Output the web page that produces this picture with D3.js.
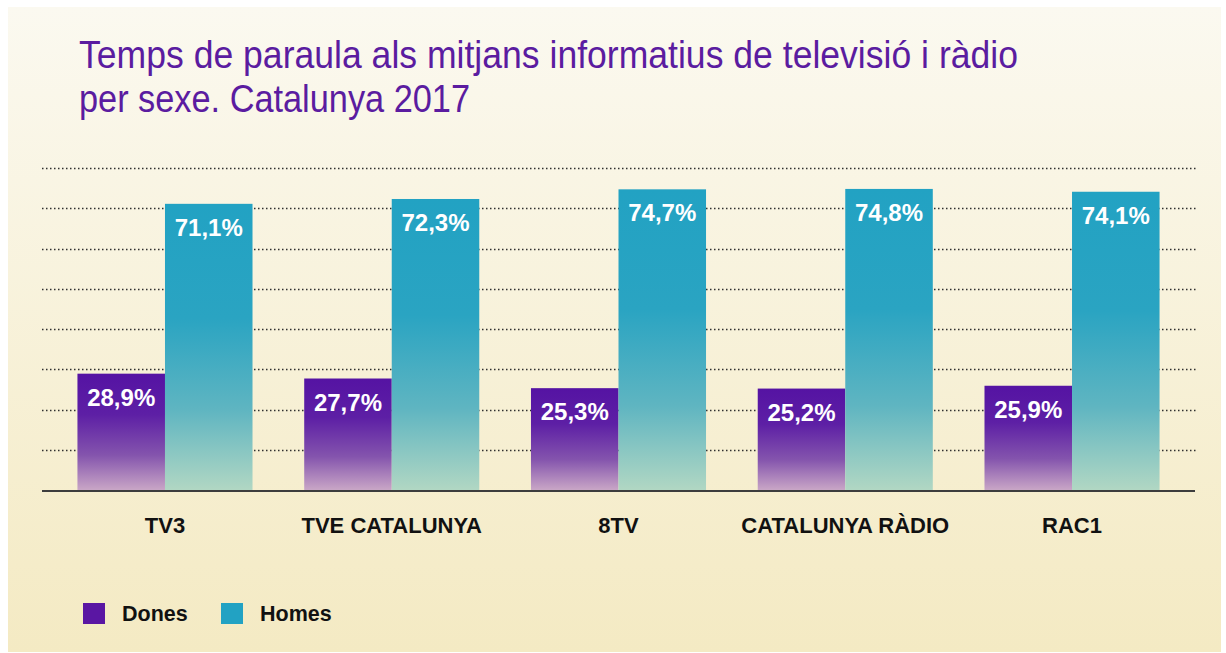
<!DOCTYPE html>
<html>
<head>
<meta charset="utf-8">
<script src="https://cdn.jsdelivr.net/npm/d3@7"></script>
<style>
  html, body { margin: 0; padding: 0; background: #ffffff; }
  svg { display: block; }
</style>
</head>
<body>
<svg id="chart" width="1226" height="653"></svg>
<script>
const categories = ["TV3", "TVE CATALUNYA", "8TV", "CATALUNYA RÀDIO", "RAC1"];
const series = ["Dones", "Homes"];
const dones = [28.9, 27.7, 25.3, 25.2, 25.9];
const homes = [71.1, 72.3, 74.7, 74.8, 74.1];
const gridTicks = [10, 20, 30, 40, 50, 60, 70, 80];
const titleLines = ["Temps de paraula als mitjans informatius de televisió i ràdio", "per sexe. Catalunya 2017"];

const values = { Dones: dones, Homes: homes };
const fmt = v => d3.format(".1f")(v).replace(".", ",") + "%";

const svg = d3.select("#chart");
const defs = svg.append("defs");

const bg = defs.append("linearGradient").attr("id", "bgGrad").attr("x1", 0).attr("y1", 0).attr("x2", 0).attr("y2", 1);
bg.append("stop").attr("offset", "0%").attr("stop-color", "#fbf9f0");
bg.append("stop").attr("offset", "100%").attr("stop-color", "#f4eac3");

const gD = defs.append("linearGradient").attr("id", "gradDones").attr("x1", 0).attr("y1", 0).attr("x2", 0).attr("y2", 1);
gD.append("stop").attr("offset", "0%").attr("stop-color", "#5513a3");
gD.append("stop").attr("offset", "35%").attr("stop-color", "#5d1fa5");
gD.append("stop").attr("offset", "70%").attr("stop-color", "#8454ad");
gD.append("stop").attr("offset", "100%").attr("stop-color", "#c9a6c6");

const gH = defs.append("linearGradient").attr("id", "gradHomes").attr("x1", 0).attr("y1", 0).attr("x2", 0).attr("y2", 1);
gH.append("stop").attr("offset", "0%").attr("stop-color", "#22a2c3");
gH.append("stop").attr("offset", "40%").attr("stop-color", "#2aa4c2");
gH.append("stop").attr("offset", "72%").attr("stop-color", "#5fb5c1");
gH.append("stop").attr("offset", "100%").attr("stop-color", "#b1d7c3");

svg.append("rect").attr("x", 8).attr("y", 7).attr("width", 1213).attr("height", 645).attr("fill", "url(#bgGrad)");

// title (condensed look)
const titleG = svg.append("g").attr("fill", "#5b1ca0")
  .style("font-family", "'Liberation Sans', Arial, sans-serif").style("font-size", "38px");
titleG.append("text").attr("x", 79).attr("y", 68).text(titleLines[0])
  .attr("textLength", 939).attr("lengthAdjust", "spacingAndGlyphs");
titleG.append("text").attr("x", 79).attr("y", 112).text(titleLines[1])
  .attr("textLength", 391).attr("lengthAdjust", "spacingAndGlyphs");

// scales
const y = d3.scaleLinear().domain([0, 80]).range([490, 168]);
const x0 = d3.scaleBand().domain(categories).range([51.6, 1185.4]).paddingInner(0.228).paddingOuter(0.114);
const x1 = d3.scaleBand().domain(series).range([0, x0.bandwidth()]).padding(0);

// gridlines
svg.append("g").selectAll("line").data(gridTicks).join("line")
  .attr("x1", 42).attr("x2", 1197)
  .attr("y1", d => Math.round(y(d)) + 0.5).attr("y2", d => Math.round(y(d)) + 0.5)
  .attr("stroke", "#2f2f2f").attr("stroke-width", 1.5).attr("stroke-dasharray", "1.5,2.5");

// bars
const groups = svg.append("g").selectAll("g").data(categories).join("g")
  .attr("transform", d => `translate(${x0(d)},0)`);

groups.selectAll("rect").data((c, i) => series.map(s => ({ s, v: values[s][i] }))).join("rect")
  .attr("x", d => x1(d.s))
  .attr("y", d => y(d.v))
  .attr("width", x1.bandwidth())
  .attr("height", d => y(0) - y(d.v))
  .attr("fill", d => d.s === "Dones" ? "url(#gradDones)" : "url(#gradHomes)");

groups.selectAll("text.val").data((c, i) => series.map(s => ({ s, v: values[s][i] }))).join("text")
  .attr("class", "val")
  .attr("x", d => x1(d.s) + x1.bandwidth() / 2)
  .attr("y", d => y(d.v) + 32)
  .attr("text-anchor", "middle")
  .attr("fill", "#ffffff")
  .style("font-family", "'Liberation Sans', Arial, sans-serif")
  .style("font-weight", "bold").style("font-size", "24px")
  .text(d => fmt(d.v));

// baseline axis
svg.append("line").attr("x1", 42).attr("x2", 1195).attr("y1", y(0) + 1).attr("y2", y(0) + 1)
  .attr("stroke", "#3d3d3d").attr("stroke-width", 2.2);

// category labels via axis
const xAxis = svg.append("g").attr("transform", `translate(0,${y(0)})`)
  .call(d3.axisBottom(x0).tickSize(0).tickPadding(0));
xAxis.select(".domain").remove();
xAxis.selectAll("text")
  .attr("y", 43).attr("dy", 0)
  .attr("fill", "#111")
  .style("font-family", "'Liberation Sans', Arial, sans-serif")
  .style("font-weight", "bold").style("font-size", "22px");

// legend
const legendX = [83, 221];
const leg = svg.append("g").selectAll("g").data(series).join("g")
  .attr("transform", (d, i) => `translate(${legendX[i]},603)`);
leg.append("rect").attr("width", 22).attr("height", 21)
  .attr("fill", d => d === "Dones" ? "#5a16a3" : "#22a2c3");
leg.append("text").attr("x", 39).attr("y", 18)
  .attr("fill", "#111")
  .style("font-family", "'Liberation Sans', Arial, sans-serif")
  .style("font-weight", "bold").style("font-size", "21.5px")
  .text(d => d);
</script>
</body>
</html>
